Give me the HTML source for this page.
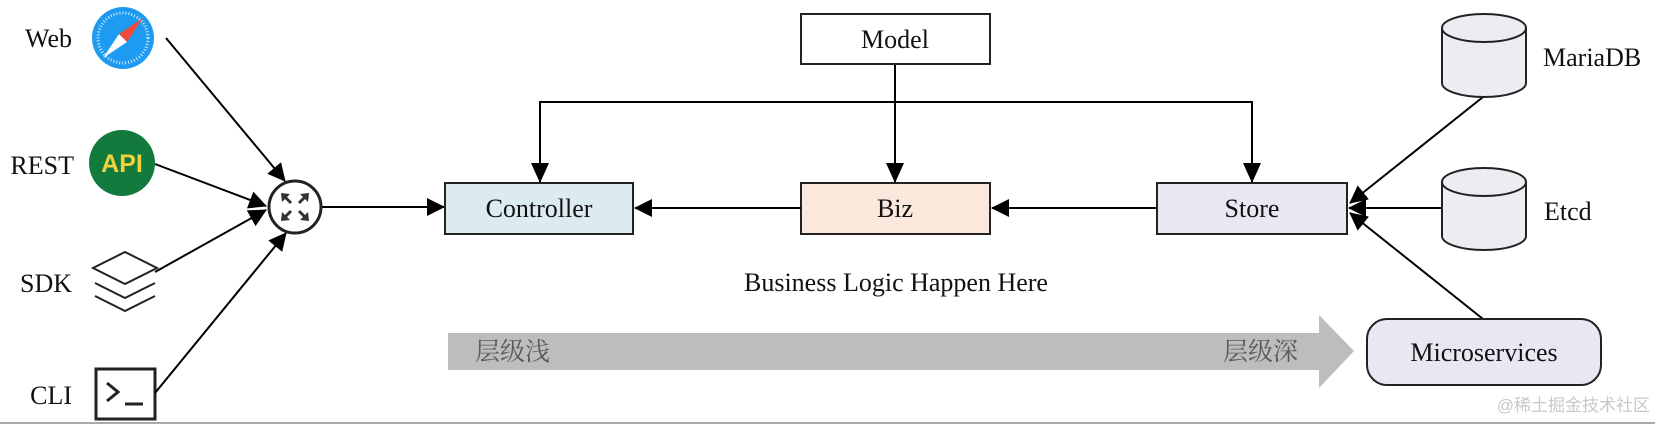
<!DOCTYPE html>
<html><head><meta charset="utf-8"><style>
html,body{margin:0;padding:0;background:#fff;}
svg{display:block;}
text{font-family:"Liberation Serif","Noto Serif CJK SC",serif;fill:#111;}
.cjk{font-family:"Liberation Serif","Noto Serif CJK SC",serif;fill:#5a5a5a;}
</style></head><body>
<svg width="1655" height="424" viewBox="0 0 1655 424" xmlns="http://www.w3.org/2000/svg">
<defs>
<marker id="ahb" markerWidth="18" markerHeight="18" refX="17" refY="9" orient="auto" markerUnits="userSpaceOnUse">
<path d="M0,0 L18,9 L0,18 z" fill="#000"/></marker>
</defs>

<text x="72" y="47" font-size="26" text-anchor="end">Web</text>
<text x="74" y="174" font-size="26" text-anchor="end">REST</text>
<text x="72" y="292" font-size="26" text-anchor="end">SDK</text>
<text x="72" y="404" font-size="26" text-anchor="end">CLI</text>

<circle cx="123" cy="38" r="31" fill="#1e9bf0"/>
<circle cx="123" cy="38" r="25" fill="none" stroke="#cfe9fb" stroke-width="3" stroke-dasharray="1 2"/>
<path d="M143,18 L127,42 L119,34 z" fill="#f04a3a"/>
<path d="M103,58 L119,34 L127,42 z" fill="#fff"/>

<circle cx="122" cy="163" r="33" fill="#137a3d"/>
<text x="122" y="172" font-size="25" font-weight="bold" text-anchor="middle" style="font-family:'Liberation Sans',sans-serif;fill:#f0d23a">API</text>

<g fill="none" stroke="#222" stroke-width="2">
<path d="M93,268 L125,252 L157,268 L125,284 z"/>
<path d="M95,283 L125,298 L155,283"/>
<path d="M95,296 L125,311 L155,296"/>
</g>

<rect x="96" y="369" width="59" height="50" fill="#fff" stroke="#222" stroke-width="3"/>
<path d="M107,383 L118,392 L107,401" fill="none" stroke="#222" stroke-width="3"/>
<line x1="125" y1="404" x2="143" y2="404" stroke="#222" stroke-width="3"/>

<g stroke="#000" stroke-width="2" fill="none">
<line x1="166" y1="38" x2="285" y2="181" marker-end="url(#ahb)"/>
<line x1="155" y1="164" x2="266" y2="206" marker-end="url(#ahb)"/>
<line x1="155" y1="272" x2="266" y2="210" marker-end="url(#ahb)"/>
<line x1="155" y1="393" x2="286" y2="233" marker-end="url(#ahb)"/>
<line x1="322" y1="207" x2="444" y2="207" marker-end="url(#ahb)"/>
</g>
<circle cx="295" cy="207" r="26" fill="#fff" stroke="#222" stroke-width="3"/>
<g stroke="#333" stroke-width="3" fill="#333">
<line x1="284" y1="196" x2="291" y2="203"/><path d="M281,193 l9,1 l-8,8 z" stroke="none"/>
<line x1="306" y1="196" x2="299" y2="203"/><path d="M309,193 l-9,1 l8,8 z" stroke="none"/>
<line x1="284" y1="218" x2="291" y2="211"/><path d="M281,221 l9,-1 l-8,-8 z" stroke="none"/>
<line x1="306" y1="218" x2="299" y2="211"/><path d="M309,221 l-9,-1 l8,-8 z" stroke="none"/>
</g>

<g stroke="#000" stroke-width="2" fill="none">
<polyline points="540,183 540,102 1252,102 1252,183"/>
<line x1="895" y1="64" x2="895" y2="183"/>
</g>
<path d="M531,163 L549,163 L540,183 z"/>
<path d="M886,163 L904,163 L895,183 z"/>
<path d="M1243,163 L1261,163 L1252,183 z"/>

<rect x="801" y="14" width="189" height="50" fill="#fff" stroke="#222" stroke-width="2"/>
<text x="895" y="48" font-size="26" text-anchor="middle">Model</text>
<rect x="445" y="183" width="188" height="51" fill="#dcebf1" stroke="#222" stroke-width="2"/>
<text x="539" y="217" font-size="26" text-anchor="middle">Controller</text>
<rect x="801" y="183" width="189" height="51" fill="#fbe7db" stroke="#222" stroke-width="2"/>
<text x="895" y="217" font-size="26" text-anchor="middle">Biz</text>
<rect x="1157" y="183" width="190" height="51" fill="#e9e7f1" stroke="#222" stroke-width="2"/>
<text x="1252" y="217" font-size="26" text-anchor="middle">Store</text>

<g stroke="#000" stroke-width="2">
<line x1="801" y1="208" x2="635" y2="208" marker-end="url(#ahb)"/>
<line x1="1157" y1="208" x2="992" y2="208" marker-end="url(#ahb)"/>
<line x1="1483" y1="97" x2="1350" y2="203" marker-end="url(#ahb)"/>
<line x1="1442" y1="208" x2="1349" y2="208" marker-end="url(#ahb)"/>
<line x1="1483" y1="319" x2="1350" y2="213" marker-end="url(#ahb)"/>
</g>

<text x="896" y="291" font-size="26" text-anchor="middle">Business Logic Happen Here</text>

<path d="M448,333 L1319,333 L1319,315 L1354,351 L1319,388 L1319,370 L448,370 z" fill="#bdbdbd"/>
<text class="cjk" x="475" y="360" font-size="25">层级浅</text>
<text class="cjk" x="1223" y="360" font-size="25">层级深</text>

<rect x="1367" y="319" width="234" height="66" rx="20" fill="#e9e7f1" stroke="#222" stroke-width="2"/>
<text x="1484" y="361" font-size="26" text-anchor="middle">Microservices</text>

<g fill="#ececf2" stroke="#222" stroke-width="2">
<path d="M1442,28 L1442,83 A42,14 0 0 0 1526,83 L1526,28"/>
<ellipse cx="1484" cy="28" rx="42" ry="14"/>
<path d="M1442,182 L1442,236 A42,14 0 0 0 1526,236 L1526,182"/>
<ellipse cx="1484" cy="182" rx="42" ry="14"/>
</g>
<text x="1543" y="66" font-size="26">MariaDB</text>
<text x="1544" y="220" font-size="26">Etcd</text>

<text class="cjk" x="1650" y="411" font-size="17" text-anchor="end" style="fill:#c8c8c8;font-family:'Liberation Sans','Noto Sans CJK SC',sans-serif">@稀土掘金技术社区</text>
<line x1="0" y1="423" x2="1655" y2="423" stroke="#aaa" stroke-width="2"/>
</svg>
</body></html>
